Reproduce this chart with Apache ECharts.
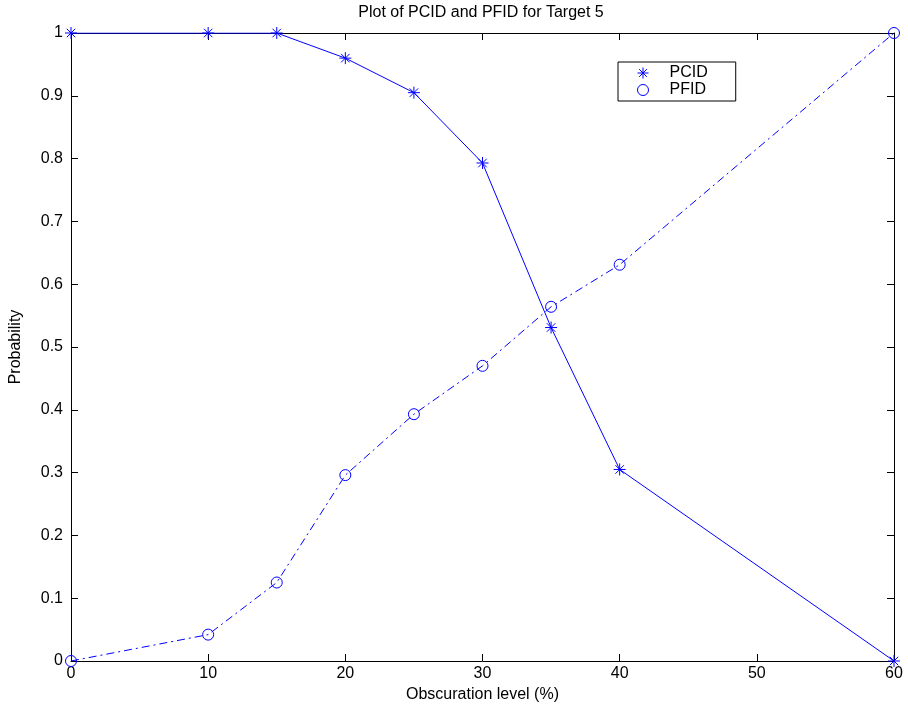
<!DOCTYPE html>
<html>
<head>
<meta charset="utf-8">
<title>Plot of PCID and PFID for Target 5</title>
<script src="https://cdn.jsdelivr.net/npm/echarts@6/dist/echarts.min.js"></script>
<style>
  html, body { margin: 0; padding: 0; background: #ffffff; }
  #chart { width: 908px; height: 717px; }
</style>
</head>
<body>
<div id="chart"></div>
<script>
// Obscuration levels (%) at which each probability was measured
var obscuration = [0, 10, 15, 20, 25, 30, 35, 40, 60];
// Probability of correct identification
var pcid = [1, 1, 1, 0.96, 0.905, 0.793, 0.531, 0.305, 0];
// Probability of false identification
var pfid = [0, 0.042, 0.125, 0.296, 0.393, 0.470, 0.564, 0.631, 1];

var xTicks = { min: 0, max: 60, step: 10 };
var yTicks = { min: 0, max: 1, step: 0.1 };

var FONT = "'Liberation Sans', Arial, sans-serif";
var BLUE = '#0000ff';

// Asterisk marker: plus sign overlaid with a cross
var ASTERISK = 'path://M0,-10L0,10M-10,0L10,0M-7.07,-7.07L7.07,7.07M-7.07,7.07L7.07,-7.07';
var CIRCLE = 'circle';

var strokeOnly = { color: 'rgba(0,0,0,0)', borderColor: BLUE, borderWidth: 1 };

function pairs(xs, ys) {
  return xs.map(function (x, i) { return [x, ys[i]]; });
}

function makeX(pos, showLabels) {
  return {
    type: 'value', position: pos,
    min: xTicks.min, max: xTicks.max, interval: xTicks.step,
    name: showLabels ? 'Obscuration level (%)' : '',
    nameLocation: 'middle', nameGap: 25,
    nameTextStyle: { color: '#000', fontSize: 16, fontFamily: FONT },
    axisLine: { show: true, onZero: false, lineStyle: { color: '#000', width: 1 } },
    axisTick: { show: true, inside: true, length: 7, lineStyle: { color: '#000' } },
    axisLabel: { show: showLabels, color: '#000', fontSize: 16, fontFamily: FONT, margin: 5 },
    splitLine: { show: false }
  };
}

function makeY(pos, showLabels) {
  return {
    type: 'value', position: pos,
    min: yTicks.min, max: yTicks.max, interval: yTicks.step,
    name: showLabels ? 'Probability' : '',
    nameLocation: 'middle', nameGap: 47,
    nameTextStyle: { color: '#000', fontSize: 16, fontFamily: FONT },
    axisLine: { show: true, onZero: false, lineStyle: { color: '#000', width: 1 } },
    axisTick: { show: true, inside: true, length: 7, lineStyle: { color: '#000' } },
    axisLabel: {
      show: showLabels, color: '#000', fontSize: 16, fontFamily: FONT, margin: 8,
      formatter: function (v) { return String(Math.round(v * 10) / 10); }
    },
    splitLine: { show: false }
  };
}

var chart = echarts.init(document.getElementById('chart'), null, { renderer: 'canvas' });

chart.setOption({
  backgroundColor: '#ffffff',
  animation: false,
  title: {
    text: 'Plot of PCID and PFID for Target 5',
    left: 476, top: 0, textAlign: 'center',
    textStyle: { color: '#000', fontSize: 16, fontWeight: 'normal', fontFamily: FONT }
  },
  grid: { left: 66, right: 14, top: 33, bottom: 56, show: false },
  legend: {
    orient: 'vertical',
    left: 618, top: 62,
    padding: [3, 28, 3, 19],
    itemGap: 1,
    itemWidth: 11, itemHeight: 11,
    borderColor: '#000', borderWidth: 1,
    backgroundColor: '#ffffff',
    textStyle: { color: '#000', fontSize: 16, fontFamily: FONT, padding: [0, 0, 0, 16] },
    data: [
      { name: 'PCID', icon: ASTERISK, itemStyle: { color: BLUE, borderColor: BLUE, borderWidth: 1 } },
      { name: 'PFID', icon: CIRCLE, itemStyle: strokeOnly }
    ]
  },
  xAxis: [makeX('bottom', true), makeX('top', false)],
  yAxis: [makeY('left', true), makeY('right', false)],
  series: [
    {
      name: 'PCID', type: 'line',
      xAxisIndex: 0, yAxisIndex: 0,
      data: pairs(obscuration, pcid),
      symbol: ASTERISK, symbolSize: 12,
      showAllSymbol: true,
      lineStyle: { color: BLUE, width: 1 },
      itemStyle: { color: BLUE, borderColor: BLUE, borderWidth: 1 },
      emphasis: { disabled: true },
      z: 3
    },
    {
      name: 'PFID', type: 'line',
      xAxisIndex: 0, yAxisIndex: 0,
      data: pairs(obscuration, pfid),
      symbol: CIRCLE, symbolSize: 11,
      showAllSymbol: true,
      lineStyle: { color: BLUE, width: 1, type: [8, 4, 2, 4] },
      itemStyle: strokeOnly,
      emphasis: { disabled: true },
      z: 3
    }
  ]
});
</script>
</body>
</html>
